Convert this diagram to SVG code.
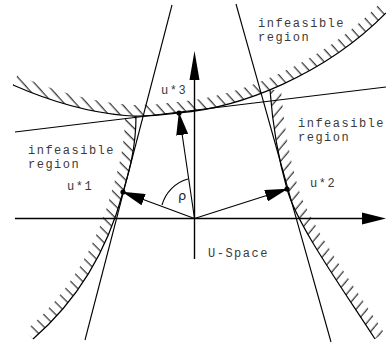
<svg xmlns="http://www.w3.org/2000/svg" width="386" height="344" viewBox="0 0 386 344">
<style>
.ln{fill:none;stroke:#000;stroke-width:1.1}
.bd{fill:none;stroke:#000;stroke-width:1.2}
.ax{fill:none;stroke:#000;stroke-width:1.4}
.vec{fill:none;stroke:#000;stroke-width:1.1;marker-end:url(#ah)}
.txt{font-family:"Liberation Mono","DejaVu Sans Mono",monospace;font-size:12px;letter-spacing:1.5px;fill:#3a3a3a}
.rho{font-family:"DejaVu Sans","Liberation Sans",sans-serif;font-size:13px;fill:#222}
</style>
<defs>
<marker id="ah" markerUnits="userSpaceOnUse" markerWidth="23" markerHeight="12" viewBox="0 0 23 12" refX="22" refY="6" orient="auto"><path d="M0,0 L23,6 L0,12 Z" fill="#000"/></marker>
<pattern id="hU" patternUnits="userSpaceOnUse" width="8.5" height="20" patternTransform="rotate(-42)"><line x1="4" y1="-1" x2="4" y2="21" stroke="#000" stroke-width="1"/></pattern>
<pattern id="hL" patternUnits="userSpaceOnUse" width="8.5" height="20" patternTransform="rotate(-45)"><line x1="4" y1="-1" x2="4" y2="21" stroke="#000" stroke-width="1"/></pattern>
<pattern id="hR" patternUnits="userSpaceOnUse" width="8.5" height="20" patternTransform="rotate(40)"><line x1="4" y1="-1" x2="4" y2="21" stroke="#000" stroke-width="1"/></pattern>
<clipPath id="cU"><path d="M13,85 C45,99 85,112 125,115.5 C150,117.5 165,114.5 179,112.8 C240,108 325,75 386,13 L386,0 L0,0 L0,85 Z"/></clipPath>
<clipPath id="cL"><path d="M136,116 C136,150 128,175 123,192 C115,222 95,285 33,339 L0,344 L0,118 Z"/></clipPath>
<clipPath id="cR"><path d="M270,90 C273,130 281,168 287,189 C297,225 340,285 375,339 L386,344 L386,86 Z"/></clipPath>
</defs>

<g id="boundary-top">
<path class="bd" d="M13,85 C45,99 85,112 125,115.5 C150,117.5 165,114.5 179,112.8 C240,108 325,75 386,13"/>
<path d="M13,85 C45,99 85,112 125,115.5 C150,117.5 165,114.5 179,112.8 C240,108 325,75 386,13" fill="none" stroke="url(#hU)" stroke-width="22" clip-path="url(#cU)"/>
</g>
<g id="boundary-left">
<path class="bd" d="M136,116 C136,150 128,175 123,192 C115,222 95,285 33,339"/>
<path d="M136,116 C136,150 128,175 123,192 C115,222 95,285 33,339" fill="none" stroke="url(#hL)" stroke-width="22" clip-path="url(#cL)"/>
</g>
<g id="boundary-right">
<path class="bd" d="M270,90 C273,130 281,168 287,189 C297,225 340,285 375,339"/>
<path d="M270,90 C273,130 281,168 287,189 C297,225 340,285 375,339" fill="none" stroke="url(#hR)" stroke-width="22" clip-path="url(#cR)"/>
</g>

<g id="connectors">
<line class="ln" x1="85" y1="340" x2="172" y2="5"/>
<line class="ln" x1="236" y1="4" x2="331" y2="342"/>
<line class="ln" x1="15" y1="132" x2="386" y2="87"/>
<line class="ax" x1="15" y1="218.5" x2="363" y2="218.5"/>
<polygon points="386,218.5 362,212.5 362,224.5" fill="#000"/>
<line class="ax" x1="194.5" y1="259" x2="194.5" y2="79"/>
<polygon points="194.5,51 189.5,80 199.5,80" fill="#000"/>
<line class="vec" x1="194.5" y1="218.5" x2="123" y2="192"/>
<line class="vec" x1="194.5" y1="218.5" x2="287" y2="189"/>
<line class="vec" x1="194.5" y1="218.5" x2="179" y2="113"/>
<path class="ln" d="M162,205 A37,37 0 0 1 188,179"/>
</g>

<g id="points">
<circle cx="123" cy="192" r="2.6" fill="#000"/>
<circle cx="287" cy="189" r="2.6" fill="#000"/>
<circle cx="179" cy="113" r="2.6" fill="#000"/>
</g>

<g id="labels">
<text class="txt" x="258" y="27">infeasible<tspan x="258" dy="13.6">region</tspan></text>
<text class="txt" x="28" y="154">infeasible<tspan x="28" dy="13.6">region</tspan></text>
<text class="txt" x="298" y="127">infeasible<tspan x="298" dy="13.6">region</tspan></text>
<text class="txt" x="67" y="190">u*1</text>
<text class="txt" x="310" y="187">u*2</text>
<text class="txt" x="161" y="94">u*3</text>
<text class="txt" x="208" y="257">U-Space</text>
<text class="rho" x="178" y="200">ρ</text>
</g>
</svg>
